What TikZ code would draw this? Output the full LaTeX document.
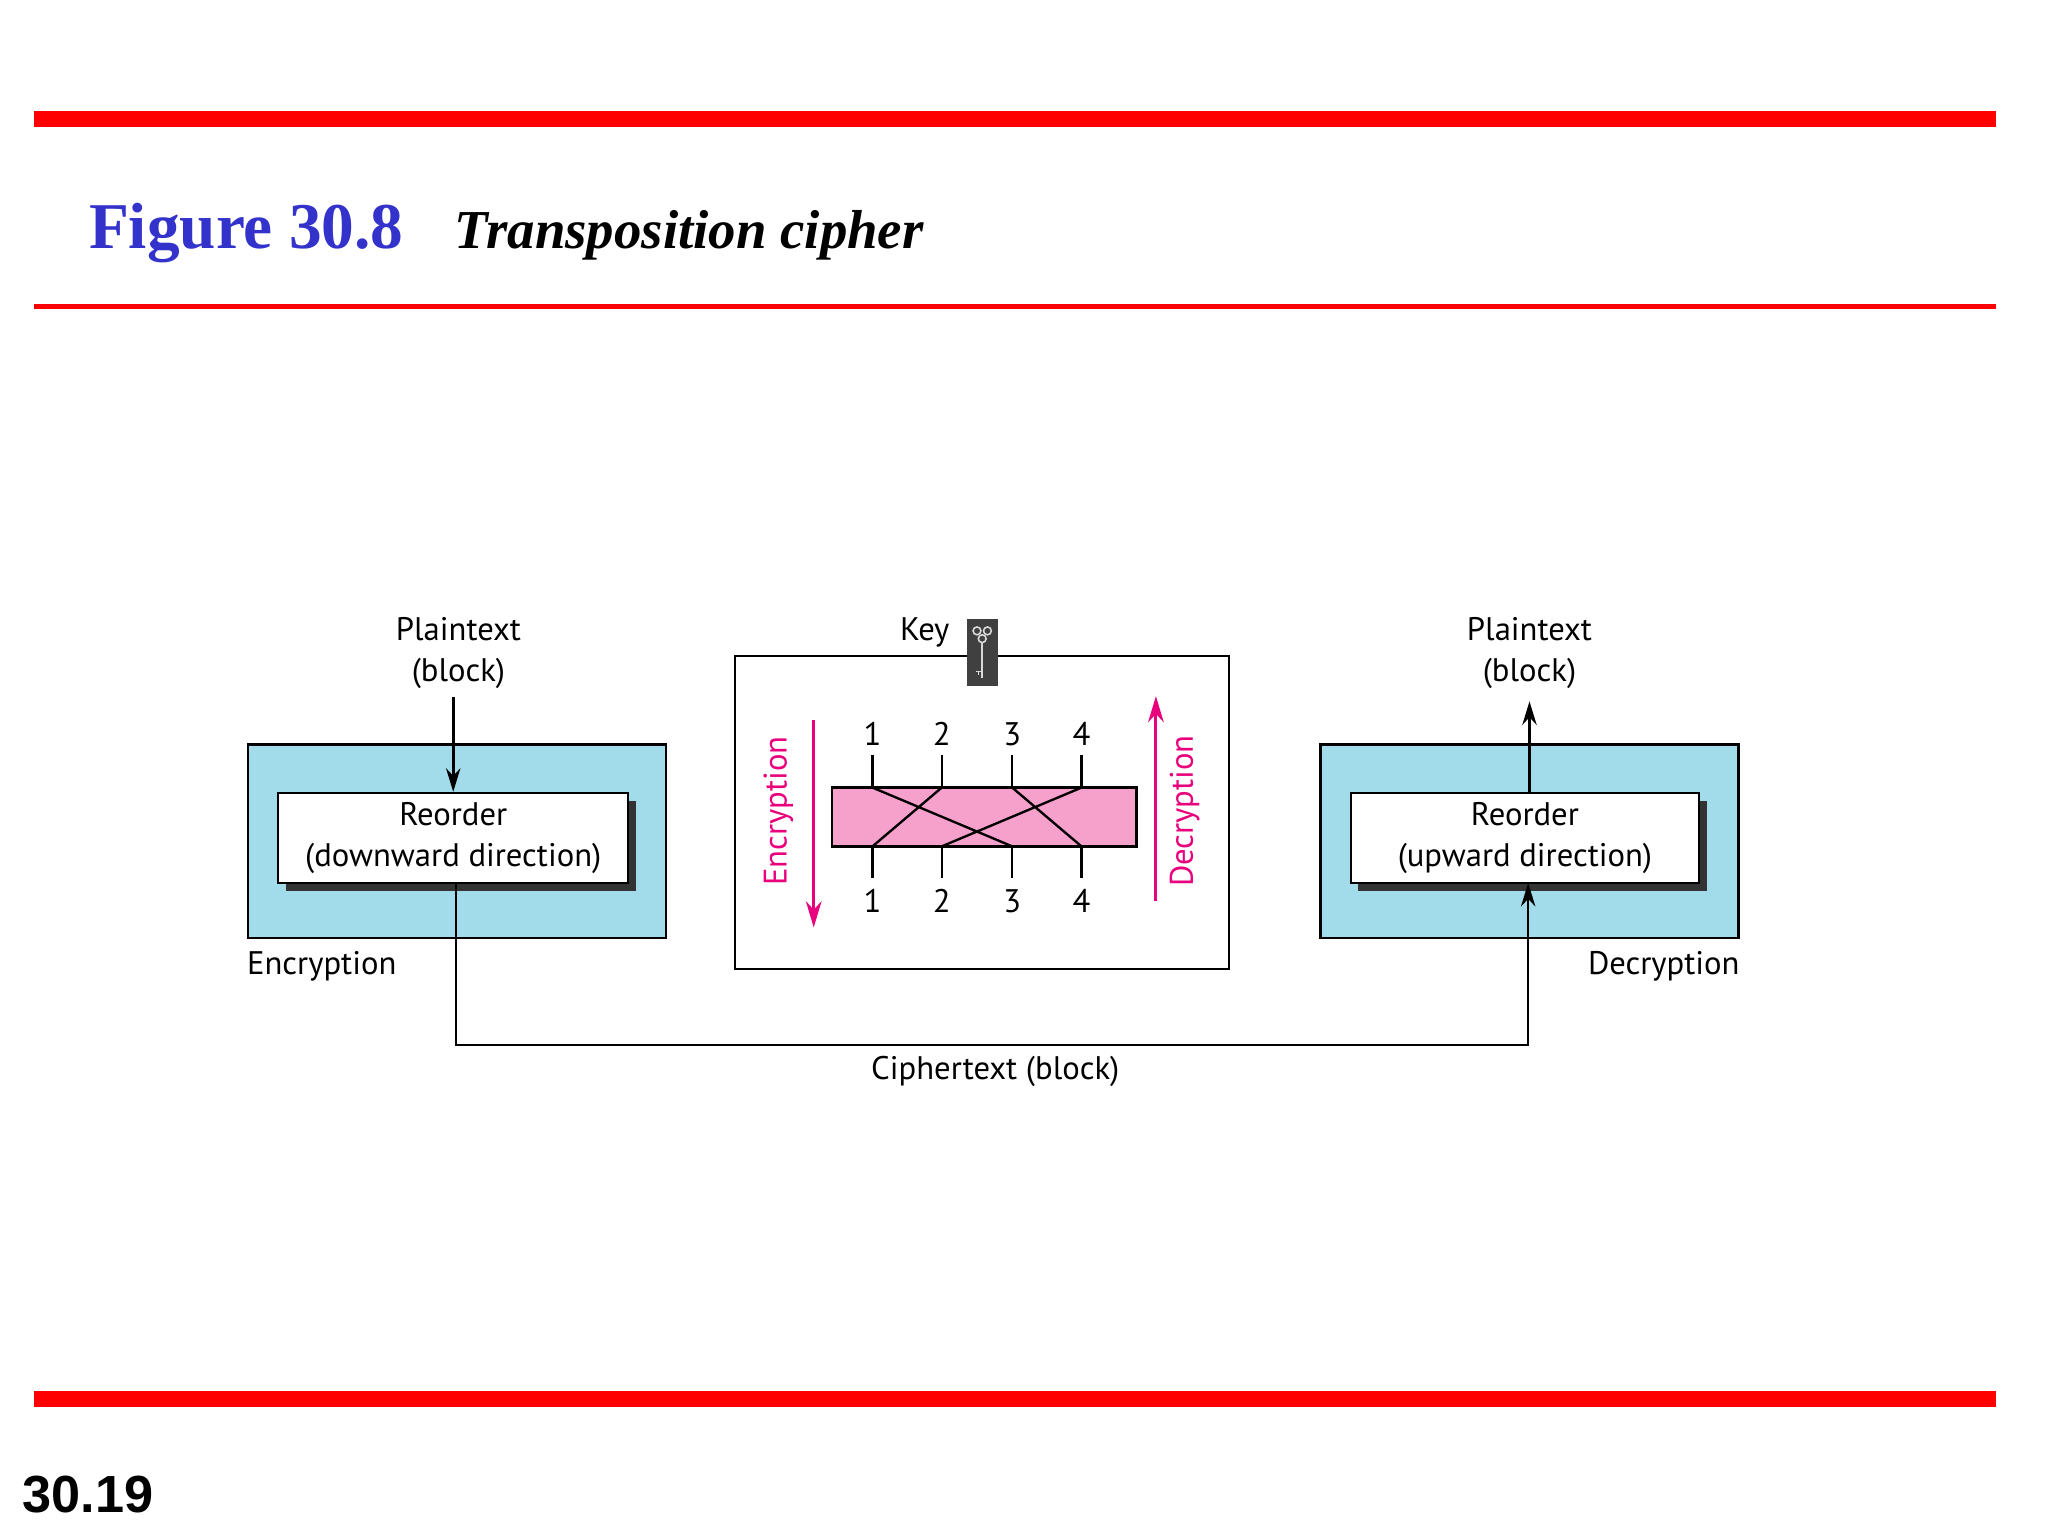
\documentclass[tikz,border=0pt]{standalone}
\usepackage{fontspec}
\setmainfont{PT Sans}
\newfontfamily\titlefont{Liberation Serif}
\newfontfamily\numfont{Liberation Sans}
\usetikzlibrary{arrows.meta}
\definecolor{redbar}{RGB}{255,0,0}
\definecolor{cyanbox}{RGB}{162,220,234}
\definecolor{pinkfill}{RGB}{246,160,204}
\definecolor{magentaa}{RGB}{232,0,124}
\definecolor{titleblue}{RGB}{51,51,204}
\tikzset{
  lbl/.style={font=\fontsize{25}{31}\selectfont, align=center, inner sep=0pt},
  num/.style={font=\fontsize{25}{30}\selectfont, inner sep=0pt},
  outerbox/.style={draw, line width=1.6pt, fill=cyanbox},
  innerbox/.style={draw, line width=1.6pt, fill=white, align=center, inner sep=0pt},
  conn/.style={line width=2pt, -{Stealth[length=18pt,width=11pt]}},
  pinkarrow/.style={draw=magentaa, line width=2.2pt, -{Stealth[length=20pt,width=12pt]}},
  tick/.style={line width=1.8pt},
}
\begin{document}
\begin{tikzpicture}[x=1pt,y=-1pt]
\useasboundingbox (0,0) rectangle (1568,1176);
% bars
\fill[redbar] (26,85) rectangle (1528,97);
\fill[redbar] (26,233) rectangle (1528,236.5);
\fill[redbar] (26,1065) rectangle (1528,1077);
\node[anchor=base west, inner sep=0pt, text=titleblue, font=\titlefont\bfseries\fontsize{50}{56}\selectfont] (title) at (68,190) {Figure 30.8};
\node[anchor=base west, inner sep=0pt, font=\titlefont\bfseries\itshape\fontsize{42}{50}\selectfont] (subtitle) at (348,190) {Transposition cipher};
\node[anchor=base west, inner sep=0pt, font=\numfont\bfseries\fontsize{40}{46}\selectfont] (pagenum) at (17,1158) {30.19};
% left
\path[outerbox] (190,570) rectangle (510,718);
\fill[black!80] (219,613) rectangle (487,682);
\node[innerbox, minimum width=268pt, minimum height=69pt, lbl] (enc) at (347,641.5) {Reorder\\(downward direction)};
\node[lbl, anchor=base west] (enclbl) at (189,746) {Encryption};
\node[lbl] (ptl) at (351,500) {Plaintext\\(block)};
\draw[conn] (ptl.south -| enc.north) ++(0,6) -- (enc.north);
% right
\path[outerbox] (1011,570) rectangle (1331,718);
\fill[black!80] (1040,613) rectangle (1307,682);
\node[innerbox, minimum width=267pt, minimum height=69pt, lbl] (dec) at (1167.5,641.5) {Reorder\\(upward direction)};
\node[lbl, anchor=base east] (declbl) at (1332,746) {Decryption};
\node[lbl] (ptr) at (1171,500) {Plaintext\\(block)};
\draw[conn] (1171,607) -- (1171,537);
% ciphertext path
\coordinate (c1) at (349,800);
\coordinate (c2) at (1170,800);
\draw[conn] (349,676) -- (c1) -- (c2) -- (1170,676);
\node[lbl] (ct) at (762,820) {Ciphertext (block)};
% center
\draw[line width=1.6pt] (563,502) rectangle (941,742);
\node[lbl, anchor=base] (keylbl) at (708,490) {Key};
\fill[black!75] (740,474) rectangle (764,525);
\begin{scope}[draw=white!85!black, line width=1.2pt]
\draw (748,483) circle (3); \draw (756,483) circle (3); \draw (752,489) circle (3);
\draw (752,492) -- (752,519); \draw (752,514) -- (747,514) (749,514)--(749,517);
\end{scope}
\path[draw, line width=1.8pt, fill=pinkfill] (637,603) rectangle (870,648);
\foreach \i/\x in {1/668,2/721,3/775,4/828}{
  \draw[tick] (\x,578) coordinate (t\i) -- (\x,603) coordinate (ta\i);
  \draw[tick] (\x,648) coordinate (ba\i) -- (\x,672) coordinate (b\i);
  \node[num] (nt\i) at (\x,562) {\i};
  \node[num] (nb\i) at (\x,690) {\i};
}
\draw[tick] (ta1) -- (ba3) (ta2) -- (ba1) (ta3) -- (ba4) (ta4) -- (ba2);
\draw[pinkarrow] (623,551) -- (623,710);
\draw[pinkarrow] (885,690) -- (885,533);
\node[lbl, text=magentaa, rotate=90] (encv) at (596,621) {Encryption};
\node[lbl, text=magentaa, rotate=90] (decv) at (907,621) {Decryption};
\end{tikzpicture}
\end{document}
